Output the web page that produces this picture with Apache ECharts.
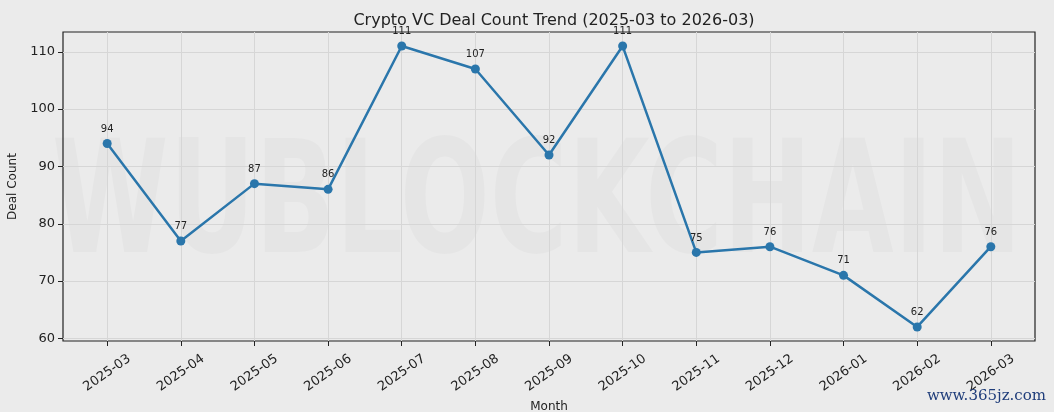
<!DOCTYPE html>
<html><head><meta charset="utf-8">
<script src="https://cdn.jsdelivr.net/npm/echarts@6/dist/echarts.min.js"></script>
<style>html,body{margin:0;padding:0;background:#ebebeb}#c{width:1054px;height:412px}</style>
</head><body><div id="c"></div>
<script>
const months = ['2025-03','2025-04','2025-05','2025-06','2025-07','2025-08','2025-09','2025-10','2025-11','2025-12','2026-01','2026-02','2026-03'];
const dealCounts = [94,77,87,86,111,107,92,111,75,76,71,62,76];
const yTicks = [60,70,80,90,100,110];

const xIdx = months.map((m,i)=>i);
const chart = echarts.init(document.getElementById('c'));
const font = 'DejaVu Sans';
chart.setOption({
  backgroundColor:'#ebebeb',
  animation:false,
  title:{text:'Crypto VC Deal Count Trend (2025-03 to 2026-03)',left:549,top:8,textAlign:'center',
    textStyle:{fontFamily:font,fontSize:16,fontWeight:'normal',color:'#222'}},
  graphic:[
    {type:'text',x:537,y:133,z:0,silent:true,
     style:{text:'WUBLOCKCHAIN',fontFamily:font,fontWeight:'bold',fontSize:156,fill:'rgba(0,0,0,0.025)',align:'center'},
     scaleX:0.68},
    {type:'text',right:8,bottom:8,z:100,
     style:{text:'www.365jz.com',fontFamily:'DejaVu Serif',fontSize:15,fill:'#1f3d7a'}}
  ],
  grid:{left:63,right:19,top:32,bottom:71,outerBoundsMode:'none',containLabel:false,show:true,backgroundColor:'#ebebeb',borderColor:'#222',borderWidth:1.2},
  xAxis:{type:'value',min:-0.6,max:12.6,
    name:'Month',nameLocation:'middle',nameGap:57,nameTextStyle:{fontFamily:font,fontSize:12,color:'#222'},
    axisLine:{show:false,onZero:false},
    axisTick:{show:true,customValues:xIdx,length:5,lineStyle:{color:'#222'}},
    axisLabel:{customValues:xIdx,formatter:v=>months[v],rotate:35,align:'center',verticalAlign:'middle',margin:32,
      fontFamily:font,fontSize:13,color:'#222'},
    splitLine:{show:true,lineStyle:{color:'#d6d6d6',width:1}}},
  yAxis:{type:'value',min:59.55,max:113.45,
    name:'Deal Count',nameLocation:'middle',nameGap:40,nameTextStyle:{fontFamily:font,fontSize:12,color:'#222'},
    axisLine:{show:false,onZero:false},
    axisTick:{show:true,customValues:yTicks,length:5,lineStyle:{color:'#222'}},
    axisLabel:{customValues:yTicks,fontFamily:font,fontSize:13,color:'#222',margin:8},
    splitLine:{show:true,lineStyle:{color:'#d6d6d6',width:1}}},
  series:[{type:'line',data:xIdx.map(i=>[i,dealCounts[i]]),
    lineStyle:{color:'#2a76ab',width:2.5},itemStyle:{color:'#2a76ab'},
    symbol:'circle',symbolSize:9,
    label:{show:true,position:'top',distance:5,formatter:p=>p.value[1],fontFamily:font,fontSize:10,color:'#222'}}]
});
</script></body></html>
